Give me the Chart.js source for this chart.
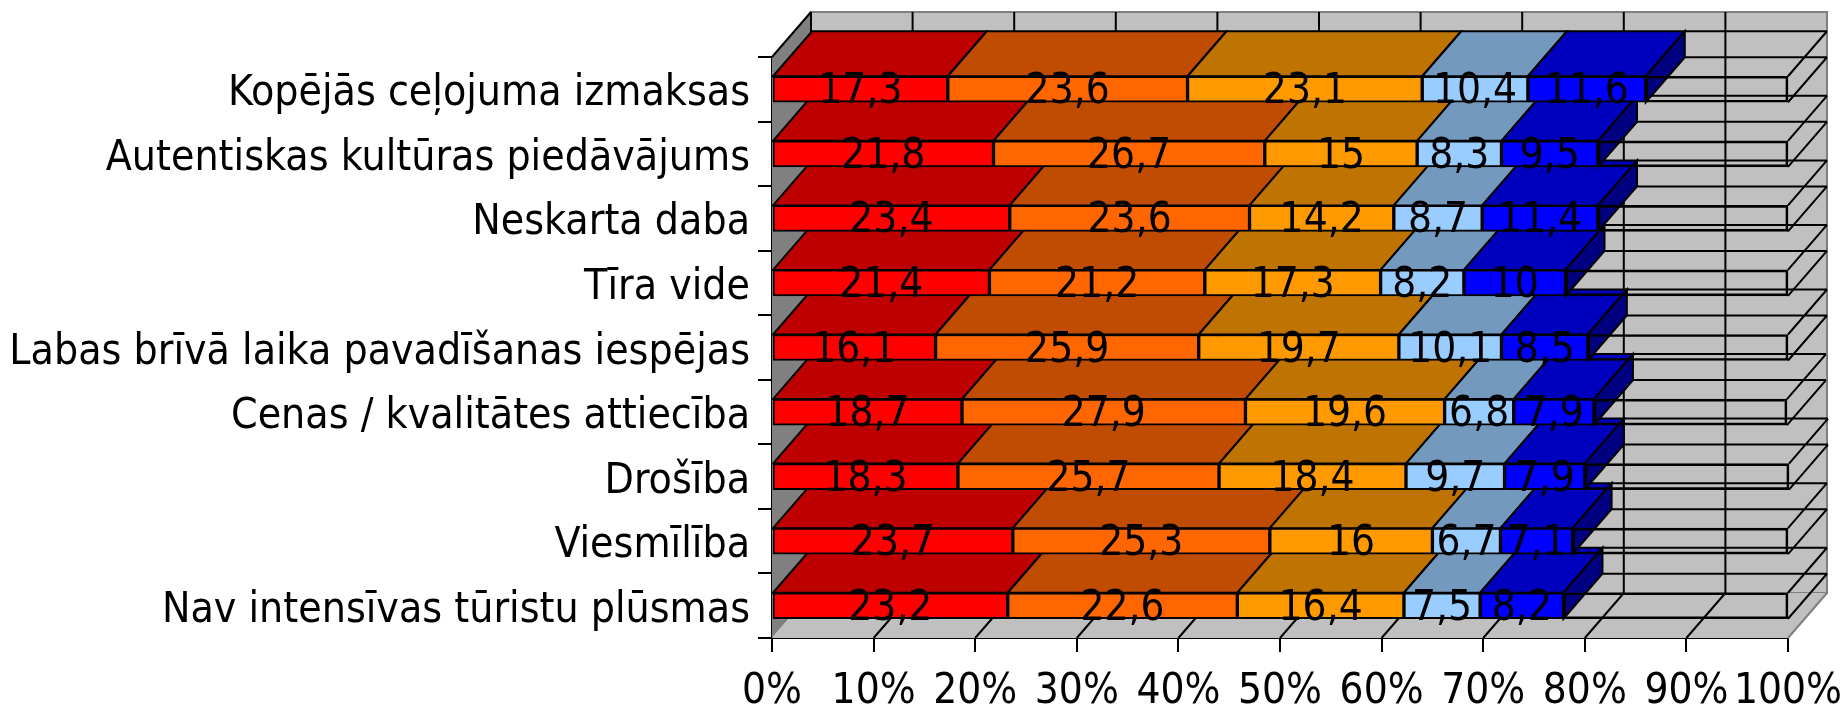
<!DOCTYPE html>
<html><head><meta charset="utf-8">
<style>html,body{margin:0;padding:0;background:#fff;overflow:hidden}canvas{display:block}</style>
<script src="https://cdn.jsdelivr.net/npm/chart.js@4/dist/chart.umd.min.js"></script>
</head><body><canvas id="c" width="1845" height="708"></canvas>
<script>
const categories = ["Kopējās ceļojuma izmaksas","Autentiskas kultūras piedāvājums","Neskarta daba","Tīra vide","Labas brīvā laika pavadīšanas iespējas","Cenas / kvalitātes attiecība","Drošība","Viesmīlība","Nav intensīvas tūristu plūsmas"];
const seriesA = [17.3,21.8,23.4,21.4,16.1,18.7,18.3,23.7,23.2];
const seriesB = [23.6,26.7,23.6,21.2,25.9,27.9,25.7,25.3,22.6];
const seriesC = [23.1,15,14.2,17.3,19.7,19.6,18.4,16,16.4];
const seriesD = [10.4,8.3,8.7,8.2,10.1,6.8,9.7,6.7,7.5];
const seriesE = [11.6,9.5,11.4,10,8.5,7.9,7.9,7.1,8.2];
const seriesRest = [14,18.7,18.7,21.9,19.7,19,20.1,21.2,22.1];
const frontColors = ["#FF0000","#FF6600","#FF9900","#99CCFF","#0000FF"];
const topColors = ["#BF0000","#BF4C00","#BF7300","#7399BF","#0000BF"];
const sideColors = ["#800000","#803300","#804D00","#4D6680","#000080"];
const FONT = '"DejaVu Sans Condensed","DejaVu Sans",sans-serif';
const DX = 39, DY = 45, LW = 2;

function poly(ctx, pts, fill, stroke, lw){
  ctx.beginPath();
  pts.forEach((p,i)=> i?ctx.lineTo(p[0],p[1]):ctx.moveTo(p[0],p[1]));
  ctx.closePath();
  if(fill){ctx.fillStyle=fill;ctx.fill();}
  if(stroke){ctx.strokeStyle=stroke;ctx.lineWidth=lw||LW;ctx.stroke();}
}
const box3d = {
  id:'box3d',
  beforeDatasetsDraw(chart){
    const ctx=chart.ctx, a=chart.chartArea, x=chart.scales.x;
    ctx.save();
    ctx.lineJoin='miter';
    poly(ctx,[[a.left,a.top],[a.left+DX,a.top-DY],[a.left+DX,a.bottom-DY],[a.left,a.bottom]],'#808080');
    poly(ctx,[[a.left+DX,a.top-DY],[a.right+DX,a.top-DY],[a.right+DX,a.bottom-DY],[a.left+DX,a.bottom-DY]],'#C0C0C0','#808080');
    poly(ctx,[[a.left,a.bottom],[a.right,a.bottom],[a.right+DX,a.bottom-DY],[a.left+DX,a.bottom-DY]],'#C0C0C0');
    ctx.strokeStyle='#808080';ctx.lineWidth=LW;
    ctx.beginPath();ctx.moveTo(a.right,a.bottom);ctx.lineTo(a.right+DX,a.bottom-DY);ctx.stroke();
    ctx.strokeStyle='#000';ctx.lineWidth=LW;
    ctx.beginPath();
    x.ticks.forEach(t=>{
      const px=x.getPixelForValue(t.value);
      if(t.value<100){
        ctx.moveTo(px+DX,a.top-DY);ctx.lineTo(px+DX,a.bottom-DY);
      }
      if(t.value>0 && t.value<100){ctx.moveTo(px,a.bottom);ctx.lineTo(px+DX,a.bottom-DY);}
    });
    ctx.moveTo(a.left,a.top);ctx.lineTo(a.left+DX,a.top-DY);
    ctx.stroke();
    const n=chart.data.labels.length, colored=frontColors.length;
    for(let r=n-1;r>=0;r--){
      const rest=chart.getDatasetMeta(colored).data[r];
      const top=rest.y-rest.height/2, bot=rest.y+rest.height/2;
      const rs=rest.base, re=rest.x;
      ctx.strokeStyle='#000';ctx.lineWidth=LW;
      ctx.beginPath();
      ctx.moveTo(rs+DX,top-DY);ctx.lineTo(re+DX,top-DY);
      ctx.moveTo(rs+DX,bot-DY);ctx.lineTo(re+DX,bot-DY);
      ctx.moveTo(re,top);ctx.lineTo(re+DX,top-DY);
      ctx.moveTo(re,bot);ctx.lineTo(re+DX,bot-DY);
      ctx.stroke();
      for(let d=0;d<colored;d++){
        const b=chart.getDatasetMeta(d).data[r];
        poly(ctx,[[b.base,top],[b.base+DX,top-DY],[b.x+DX,top-DY],[b.x,top]],topColors[d],'#000');
      }
      const e=chart.getDatasetMeta(colored-1).data[r];
      poly(ctx,[[e.x,top],[e.x+DX,top-DY],[e.x+DX,bot-DY],[e.x,bot]],sideColors[colored-1],'#000');
    }
    ctx.restore();
  },
  afterDatasetsDraw(chart){
    const ctx=chart.ctx;
    ctx.save();
    ctx.fillStyle='#000';ctx.textAlign='center';ctx.textBaseline='alphabetic';
    ctx.font='42px '+FONT;
    for(let d=0;d<frontColors.length;d++){
      chart.getDatasetMeta(d).data.forEach((b,i)=>{
        const v=chart.data.datasets[d].data[i];
        ctx.fillText(String(v).replace('.',','),(b.base+b.x)/2,b.y+14);
      });
    }
    ctx.restore();
  }
};
const seriesValues=[seriesA,seriesB,seriesC,seriesD,seriesE];
const datasets=seriesValues.map((v,i)=>({label:'S'+(i+1),data:v,backgroundColor:frontColors[i],borderColor:'#000',borderWidth:2,borderSkipped:false,barThickness:26,clip:false}));
datasets.push({label:'Rest',data:seriesRest,backgroundColor:'rgba(0,0,0,0)',borderColor:'#000',borderWidth:2,borderSkipped:false,barThickness:26,clip:false});
new Chart(document.getElementById('c'),{
  type:'bar',
  data:{labels:categories,datasets},
  plugins:[box3d],
  options:{
    indexAxis:'y',responsive:false,animation:false,
    layout:{padding:{top:57,right:57,left:0,bottom:0}},
    plugins:{legend:{display:false},title:{display:false},tooltip:{enabled:false}},
    scales:{
      x:{type:'linear',stacked:true,min:0,max:100,
        afterFit(s){s.height=70;s.paddingLeft=0;s.paddingRight=0;},
        ticks:{stepSize:10,maxRotation:0,autoSkip:false,padding:15,color:'#000',font:{family:FONT,size:42},callback:v=>v+'%'},
        grid:{drawOnChartArea:false,drawTicks:true,tickLength:14,color:'#000',lineWidth:2},
        border:{color:'#000',width:2}},
      y:{type:'category',stacked:true,
        afterFit(s){s.width=772;s.paddingTop=0;s.paddingBottom=0;},
        ticks:{padding:8,labelOffset:5,color:'#000',autoSkip:false,font:{family:FONT,size:42.4}},
        grid:{drawOnChartArea:false,drawTicks:true,tickLength:14,color:'#000',lineWidth:2},
        border:{color:'#000',width:2}}
    }
  }
});
</script></body></html>
